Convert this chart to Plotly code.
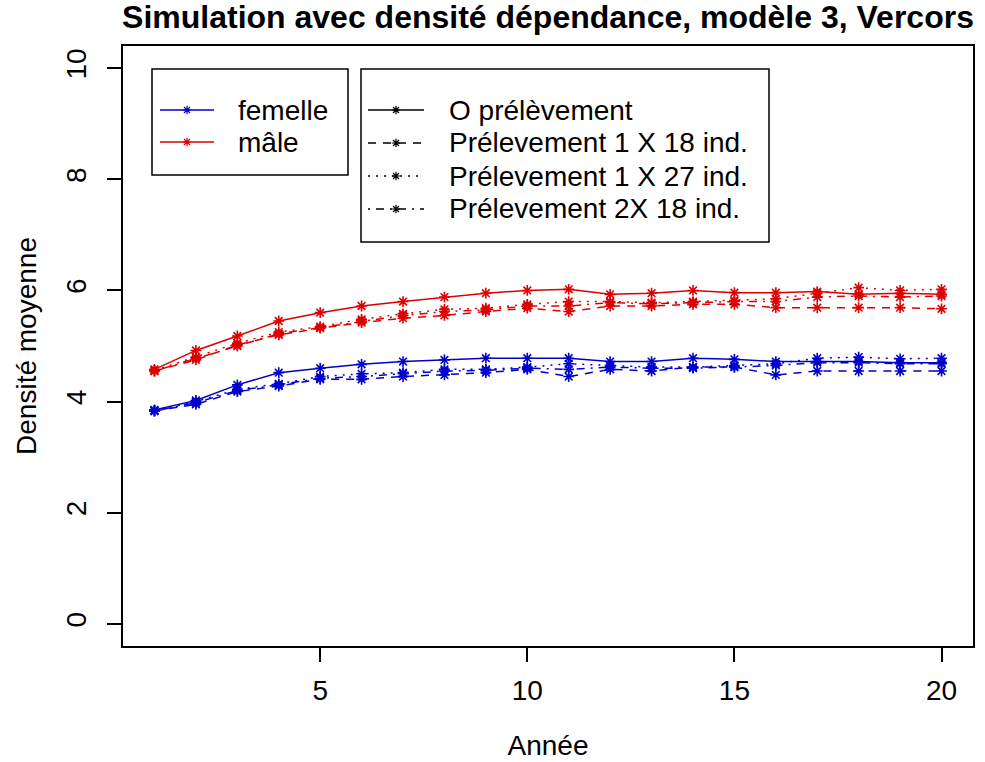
import plotly.graph_objects as go

# ---------------- data ----------------
annees = list(range(1, 21))

male_0 = [4.58, 4.92, 5.18, 5.45, 5.60, 5.72, 5.80, 5.88, 5.95, 6.00,
          6.02, 5.93, 5.95, 6.00, 5.96, 5.96, 5.98, 5.93, 5.95, 5.93]
male_1x18 = [4.55, 4.75, 5.02, 5.20, 5.32, 5.42, 5.50, 5.55, 5.62, 5.68,
             5.62, 5.72, 5.72, 5.75, 5.75, 5.69, 5.69, 5.69, 5.69, 5.67]
male_1x27 = [4.56, 4.80, 5.05, 5.25, 5.35, 5.48, 5.58, 5.66, 5.68, 5.75,
             5.80, 5.80, 5.78, 5.80, 5.82, 5.85, 5.95, 6.05, 6.00, 6.02]
male_2x18 = [4.55, 4.78, 5.00, 5.22, 5.33, 5.45, 5.55, 5.62, 5.65, 5.72,
             5.72, 5.78, 5.76, 5.78, 5.80, 5.80, 5.88, 5.90, 5.88, 5.90]

fem_0 = [3.85, 4.02, 4.30, 4.52, 4.60, 4.67, 4.72, 4.75, 4.78, 4.78,
         4.78, 4.72, 4.72, 4.78, 4.76, 4.72, 4.72, 4.72, 4.70, 4.70]
fem_1x18 = [3.83, 3.95, 4.18, 4.28, 4.40, 4.40, 4.45, 4.48, 4.52, 4.58,
            4.45, 4.58, 4.55, 4.62, 4.62, 4.48, 4.55, 4.55, 4.55, 4.55]
fem_1x27 = [3.84, 4.00, 4.22, 4.32, 4.45, 4.50, 4.52, 4.58, 4.58, 4.62,
            4.68, 4.65, 4.62, 4.62, 4.65, 4.68, 4.78, 4.80, 4.77, 4.78]
fem_2x18 = [3.83, 3.98, 4.20, 4.30, 4.42, 4.45, 4.50, 4.55, 4.56, 4.60,
            4.58, 4.62, 4.60, 4.60, 4.62, 4.65, 4.70, 4.70, 4.68, 4.68]

sexes = ["femelle", "mâle"]
scenarios = ["O prélèvement", "Prélevement 1 X 18 ind.",
             "Prélevement 1 X 27 ind.", "Prélevement 2X 18 ind."]
x_ticks = [5, 10, 15, 20]
y_ticks = [0, 2, 4, 6, 8, 10]

# ---------------- styles ----------------
BLUE = "#0000cc"
RED = "#dd0000"
colors = {"femelle": BLUE, "mâle": RED}
dashes = ["solid", "8px,7px", "2px,6px", "2px,6px,8px,6px"]
series = {
    "femelle": [fem_0, fem_1x18, fem_1x27, fem_2x18],
    "mâle": [male_0, male_1x18, male_1x27, male_2x18],
}
FONT = "Liberation Sans, Arial, sans-serif"

W, H = 985, 762
L, R, T, B = 123, 973, 46, 646  # plot box in pixels


def px_x(p):
    return (p - L) / (R - L)


def px_y(p):
    return (B - p) / (B - T)


fig = go.Figure()

for sex in sexes:
    for vals, dash in zip(series[sex], dashes):
        fig.add_trace(go.Scatter(
            x=annees, y=vals, mode="lines+markers",
            line=dict(color=colors[sex], width=1.5, dash=dash),
            marker=dict(symbol="asterisk-open", size=9, color=colors[sex],
                        line=dict(color=colors[sex], width=1.6)),
            showlegend=False, hoverinfo="skip"))

# ---------------- manual legends (overlay axes in paper units) ----------------
def legend_sample(y_px, x0_px, x1_px, color, dash):
    fig.add_trace(go.Scatter(
        x=[px_x(x0_px), px_x(x1_px)], y=[px_y(y_px)] * 2, mode="lines",
        line=dict(color=color, width=1.5, dash=dash),
        xaxis="x2", yaxis="y2", showlegend=False, hoverinfo="skip"))
    fig.add_trace(go.Scatter(
        x=[px_x((x0_px + x1_px) / 2)], y=[px_y(y_px)], mode="markers",
        marker=dict(symbol="asterisk-open", size=7, color=color,
                    line=dict(color=color, width=1.2)),
        xaxis="x2", yaxis="y2", showlegend=False, hoverinfo="skip"))


annotations = []
shapes = []

# box 1 : sexes
shapes.append(dict(type="rect", xref="paper", yref="paper",
                   x0=px_x(152), x1=px_x(348), y0=px_y(175), y1=px_y(69),
                   line=dict(color="black", width=1.5)))
for sex, ypx in zip(sexes, [110, 142]):
    legend_sample(ypx, 160, 214, colors[sex], "solid")
    annotations.append(dict(text=sex, xref="paper", yref="paper",
                            x=px_x(236), y=px_y(ypx), xanchor="left",
                            yanchor="middle", showarrow=False,
                            font=dict(family=FONT, size=28, color="black")))

# box 2 : scenarios
shapes.append(dict(type="rect", xref="paper", yref="paper",
                   x0=px_x(361), x1=px_x(769), y0=px_y(242), y1=px_y(69),
                   line=dict(color="black", width=1.5)))
for sc, dash, ypx in zip(scenarios, dashes, [110, 143, 176, 209]):
    legend_sample(ypx, 368, 424, "black", dash)
    annotations.append(dict(text=sc, xref="paper", yref="paper",
                            x=px_x(447), y=px_y(ypx), xanchor="left",
                            yanchor="middle", showarrow=False,
                            font=dict(family=FONT, size=28, color="black")))

fig.update_layout(
    width=W, height=H,
    margin=dict(l=L, r=W - R, t=T, b=H - B, pad=0, autoexpand=False),
    paper_bgcolor="white", plot_bgcolor="white",
    font=dict(family=FONT, size=28, color="black"),
    title=dict(text="Simulation avec densité dépendance, modèle 3, Vercors",
               font=dict(family=FONT, size=32, color="black", weight="bold"),
               xref="paper", x=0.5, xanchor="center",
               yref="container", y=1 - 17 / H, yanchor="middle"),
    xaxis=dict(range=[1 - 0.76, 20 + 0.76], tickvals=x_ticks,
               ticks="outside", ticklen=14, tickwidth=1.5, tickcolor="black",
               ticklabelstandoff=5, automargin=False,
               showline=True, linecolor="black", linewidth=1.5, mirror=True,
               showgrid=False, zeroline=False,
               tickfont=dict(family=FONT, size=28),
               title=dict(text="Année", font=dict(family=FONT, size=28),
                          standoff=30)),
    yaxis=dict(range=[-0.4, 10.4], tickvals=y_ticks, tickangle=-90,
               ticks="outside", ticklen=14, tickwidth=1.5, tickcolor="black",
               ticklabelstandoff=10, automargin=False,
               showline=True, linecolor="black", linewidth=1.5, mirror=True,
               showgrid=False, zeroline=False,
               tickfont=dict(family=FONT, size=28),
               title=dict(text="Densité moyenne", font=dict(family=FONT, size=28),
                          standoff=16)),
    xaxis2=dict(overlaying="x", range=[0, 1], visible=False, fixedrange=True),
    yaxis2=dict(overlaying="y", range=[0, 1], visible=False, fixedrange=True),
    shapes=shapes, annotations=annotations,
)

fig.write_html("out.html")
